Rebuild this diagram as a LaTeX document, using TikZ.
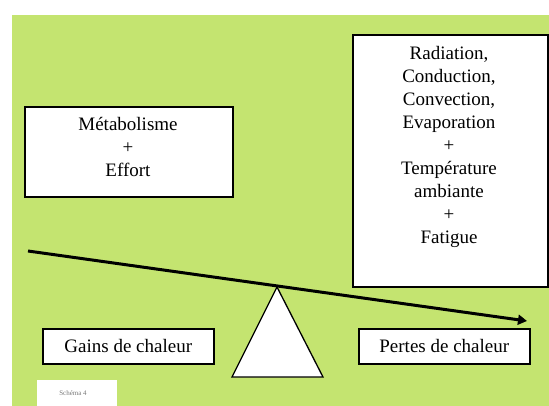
\documentclass[tikz,border=0pt]{standalone}
\usepackage{fontspec}
\setmainfont{Liberation Serif}
\usetikzlibrary{arrows.meta}
\definecolor{bggreen}{RGB}{196,228,112}
\definecolor{schemagray}{RGB}{120,120,120}
\tikzset{
  box/.style={draw=black, line width=1.6pt, fill=white, inner sep=0pt},
  txt/.style={font=\fontsize{19}{23}\selectfont, align=center, inner sep=0pt},
  beam/.style={line width=3pt, -{Triangle[length=9pt,width=10pt]}},
}
\begin{document}
\begin{tikzpicture}[x=1pt,y=-1pt]
\useasboundingbox (0,0) rectangle (549,406);
% background
\fill[white] (0,0) rectangle (549,406);
\fill[bggreen] (12,15) rectangle (549,406);
% left box
\node[box, anchor=north west, minimum width=208pt, minimum height=90pt] (gainsbox) at (24,106) {};
\node[txt] (gainstext) at (128,147) {Métabolisme\\+\\Effort};
% right box
\node[box, anchor=north west, minimum width=195pt, minimum height=252pt] (lossbox) at (352,34) {};
\node[txt, anchor=north] (losstext) at (449,46) {Radiation,\\Conduction,\\Convection,\\Evaporation\\+\\Température\\ambiante\\+\\Fatigue};
% labels
\node[box, anchor=north west, minimum width=171pt, minimum height=35pt, txt] (gains) at (42,328) {Gains de chaleur};
\node[box, anchor=north west, minimum width=171pt, minimum height=35pt, txt] (pertes) at (358,328) {Pertes de chaleur};
% fulcrum
\coordinate (apex) at (277,287);
\coordinate (baseL) at (232,377);
\coordinate (baseR) at (323,377);
\draw[line width=1.3pt, fill=white, line join=miter] (apex) -- (baseL) -- (baseR) -- cycle;
% beam
\coordinate (beamL) at (28,251);
\coordinate (beamR) at (527,321);
\draw[beam] (beamL) -- (beamR);
% schema label
\fill[white] (37,380) rectangle (117,406);
\node[font=\fontsize{7}{8}\selectfont, text=schemagray, inner sep=0pt] (schema) at (73,393) {Schéma 4};
\end{tikzpicture}
\end{document}
